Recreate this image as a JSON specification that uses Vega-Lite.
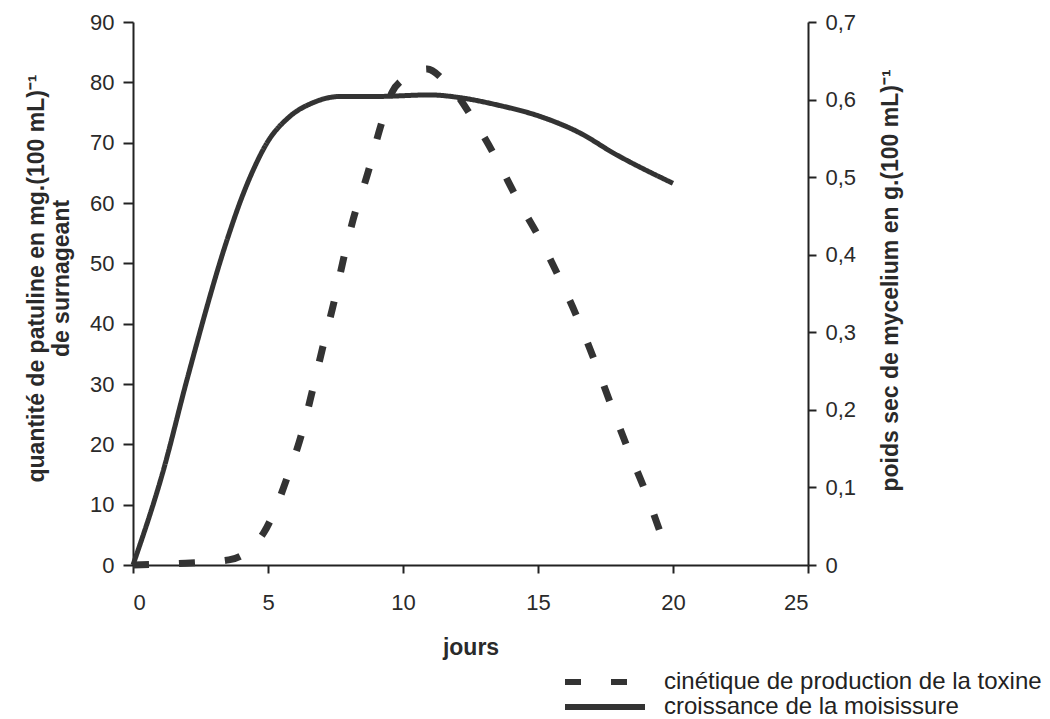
{
  "$schema": "https://vega.github.io/schema/vega-lite/v6.json",
  "autosize": "none",
  "width": 675,
  "height": 543,
  "padding": {"left": 133, "top": 22, "right": 242, "bottom": 154},
  "background": "white",
  "config": {
    "view": {"stroke": null},
    "font": "Liberation Sans",
    "axis": {"grid": false, "domainColor": "#222", "domainWidth": 2, "tickColor": "#222", "tickWidth": 2, "labelFont": "Liberation Sans", "labelFontSize": 22, "labelColor": "#2a2a2a", "titleFont": "Liberation Sans", "titleFontSize": 23, "titleFontWeight": "bold", "titleColor": "#2a2a2a"}
  },
  "datasets": {
    "toxine": [
      {"jour": 0, "v": 0}, {"jour": 1.95, "v": 0.3}, {"jour": 3.55, "v": 0.85}, {"jour": 4.85, "v": 5.4}, {"jour": 5.15, "v": 8}, {"jour": 5.75, "v": 15}, {"jour": 6.25, "v": 21.8}, {"jour": 6.65, "v": 29}, {"jour": 7.05, "v": 36.5}, {"jour": 7.45, "v": 43.7}, {"jour": 7.8, "v": 50.8}, {"jour": 8.15, "v": 57.2}, {"jour": 8.7, "v": 65}, {"jour": 9.15, "v": 72.4}, {"jour": 9.6, "v": 78.4}, {"jour": 10.0, "v": 80.5}, {"jour": 10.4, "v": 81.6}, {"jour": 10.9, "v": 82.2}, {"jour": 11.5, "v": 80.4}, {"jour": 11.85, "v": 78.8}, {"jour": 12.5, "v": 74.6}, {"jour": 13.5, "v": 67}, {"jour": 14.25, "v": 60.5}, {"jour": 15.1, "v": 53.8}, {"jour": 15.85, "v": 47}, {"jour": 16.55, "v": 40}, {"jour": 17.15, "v": 33.2}, {"jour": 17.75, "v": 26}, {"jour": 18.3, "v": 19.6}, {"jour": 18.95, "v": 12.5}, {"jour": 19.6, "v": 4.5}
    ],
    "mycelium": [
      {"jour": 0, "g": 0}, {"jour": 1.1, "g": 0.119}, {"jour": 2, "g": 0.239}, {"jour": 3.52, "g": 0.423}, {"jour": 4.0, "g": 0.471}, {"jour": 4.45, "g": 0.509}, {"jour": 4.96, "g": 0.544}, {"jour": 5.8, "g": 0.578}, {"jour": 6.67, "g": 0.596}, {"jour": 7.67, "g": 0.604}, {"jour": 9, "g": 0.604}, {"jour": 11, "g": 0.606}, {"jour": 12.2, "g": 0.602}, {"jour": 13.5, "g": 0.593}, {"jour": 15.1, "g": 0.578}, {"jour": 16.55, "g": 0.557}, {"jour": 17.8, "g": 0.531}, {"jour": 20, "g": 0.492}
    ]
  },
  "layer": [
    {
      "data": {"name": "toxine"},
      "mark": {"type": "line", "color": "#333", "strokeWidth": 7, "interpolate": "monotone", "strokeCap": "butt"},
      "encoding": {
        "x": {"field": "jour", "type": "quantitative", "scale": {"domain": [0, 25], "nice": false}, "axis": {"values": [0, 5, 10, 15, 20, 25], "title": "jours", "tickSize": 8, "labelPadding": 19, "titlePadding": 23}},
        "y": {"field": "v", "type": "quantitative", "scale": {"domain": [0, 90], "nice": false}, "axis": {"values": [0, 10, 20, 30, 40, 50, 60, 70, 80, 90], "title": ["quantité de patuline en mg.(100 mL)⁻¹", "de surnageant"], "tickSize": 10, "labelPadding": 9, "titlePadding": 16, "titleLineHeight": 25, "titleY": 256}},
        "strokeDash": {"datum": "cinétique de production de la toxine", "type": "nominal", "scale": {"domain": ["cinétique de production de la toxine", "croissance de la moisissure"], "range": [[16, 30], [1, 0]]}, "legend": {"title": null, "orient": "none", "legendX": 459, "legendY": 647, "symbolType": "M-4,0H4", "symbolSize": 400, "symbolStrokeWidth": 6, "symbolStrokeColor": "#333", "labelFontSize": 24, "labelColor": "#222", "labelFont": "Liberation Sans", "labelLimit": 0, "rowPadding": 0, "labelOffset": 46}}
      }
    },
    {
      "data": {"name": "mycelium"},
      "mark": {"type": "line", "color": "#333", "strokeWidth": 5, "interpolate": "monotone"},
      "encoding": {
        "x": {"field": "jour", "type": "quantitative"},
        "y": {"field": "g", "type": "quantitative", "scale": {"domain": [0, 0.7], "nice": false}, "axis": {"orient": "right", "values": [0, 0.1, 0.2, 0.3, 0.4, 0.5, 0.6, 0.7], "labelExpr": "datum.value == 0 ? '0' : replace(format(datum.value, '.1f'), '.', ',')", "title": "poids sec de mycelium en g.(100 mL)⁻¹", "titleAngle": 270, "titleBaseline": "top", "titleY": 258, "tickSize": 8, "labelPadding": 9, "titlePadding": 24}},
        "strokeDash": {"datum": "croissance de la moisissure", "type": "nominal"}
      }
    }
  ],
  "resolve": {"scale": {"y": "independent"}}
}
